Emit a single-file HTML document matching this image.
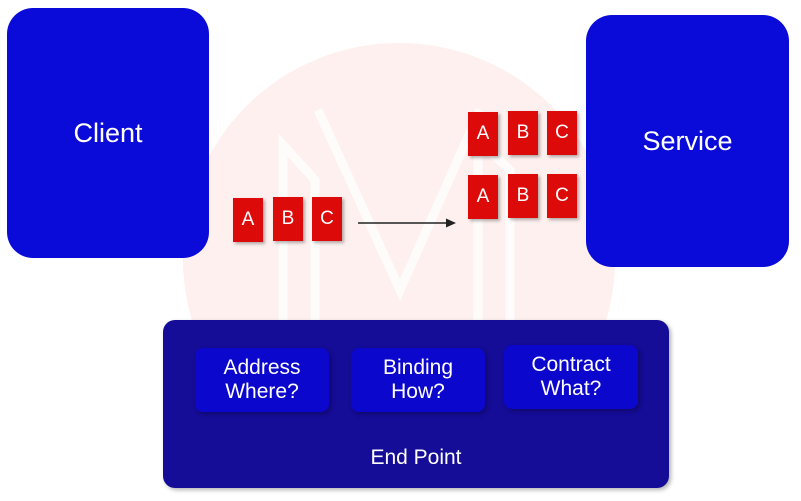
<!DOCTYPE html>
<html><head><style>
body{margin:0;width:801px;height:501px;background:#fff;position:relative;overflow:hidden;font-family:"Liberation Sans",sans-serif}
.a{position:absolute}
.big{background:#0b0bd9;border-radius:26px;color:#fff;font-size:27px;display:flex;align-items:center;justify-content:center}
.t{position:absolute;width:30px;height:44px;background:#dd0a0a;color:#fff;font-size:19px;display:flex;align-items:center;justify-content:center;box-shadow:2px 2px 3px rgba(0,0,0,.3)}
.in{position:absolute;width:134px;height:64px;background:#0c07cd;border-radius:8px;color:#fff;font-size:21px;text-align:center;line-height:24px;display:flex;align-items:center;justify-content:center;box-shadow:2px 2px 4px rgba(0,0,0,.3)}
</style></head><body>
<div class="a" style="left:183px;top:43px;width:432px;height:432px;border-radius:50%;background:#fdf0ee"></div>
<svg class="a" style="left:0;top:0" width="801" height="501"><g fill="none" stroke="#fff" stroke-width="9" opacity=".8"><polyline points="283,330 283,145 315,180 315,330"/><polyline points="318,110 400,290 480,110"/><polyline points="478,330 478,140 510,170 510,330"/></g></svg>
<div class="a big" style="left:7px;top:8px;width:202px;height:250px">Client</div>
<div class="a big" style="left:586px;top:15px;width:203px;height:252px">Service</div>
<div class="t" style="left:233px;top:198px">A</div><div class="t" style="left:273px;top:197px">B</div><div class="t" style="left:312px;top:197px">C</div>
<div class="t" style="left:468px;top:112px">A</div><div class="t" style="left:508px;top:111px">B</div><div class="t" style="left:547px;top:111px">C</div>
<div class="t" style="left:468px;top:175px">A</div><div class="t" style="left:508px;top:174px">B</div><div class="t" style="left:547px;top:174px">C</div>
<svg class="a" style="left:0;top:0" width="801" height="501"><line x1="358" y1="223" x2="448" y2="223" stroke="#222" stroke-width="1.5"/><polygon points="456,223 446,218.5 446,227.5" fill="#222"/></svg>
<div class="a" style="left:163px;top:320px;width:506px;height:168px;background:#150c97;border-radius:12px;box-shadow:2px 2px 4px rgba(0,0,0,.3)"></div>
<div class="in" style="left:195px;top:348px">Address<br>Where?</div>
<div class="in" style="left:351px;top:348px">Binding<br>How?</div>
<div class="in" style="left:504px;top:345px">Contract<br>What?</div>
<div class="a" style="left:163px;top:446px;width:506px;text-align:center;color:#fff;font-size:21px">End Point</div>
</body></html>
